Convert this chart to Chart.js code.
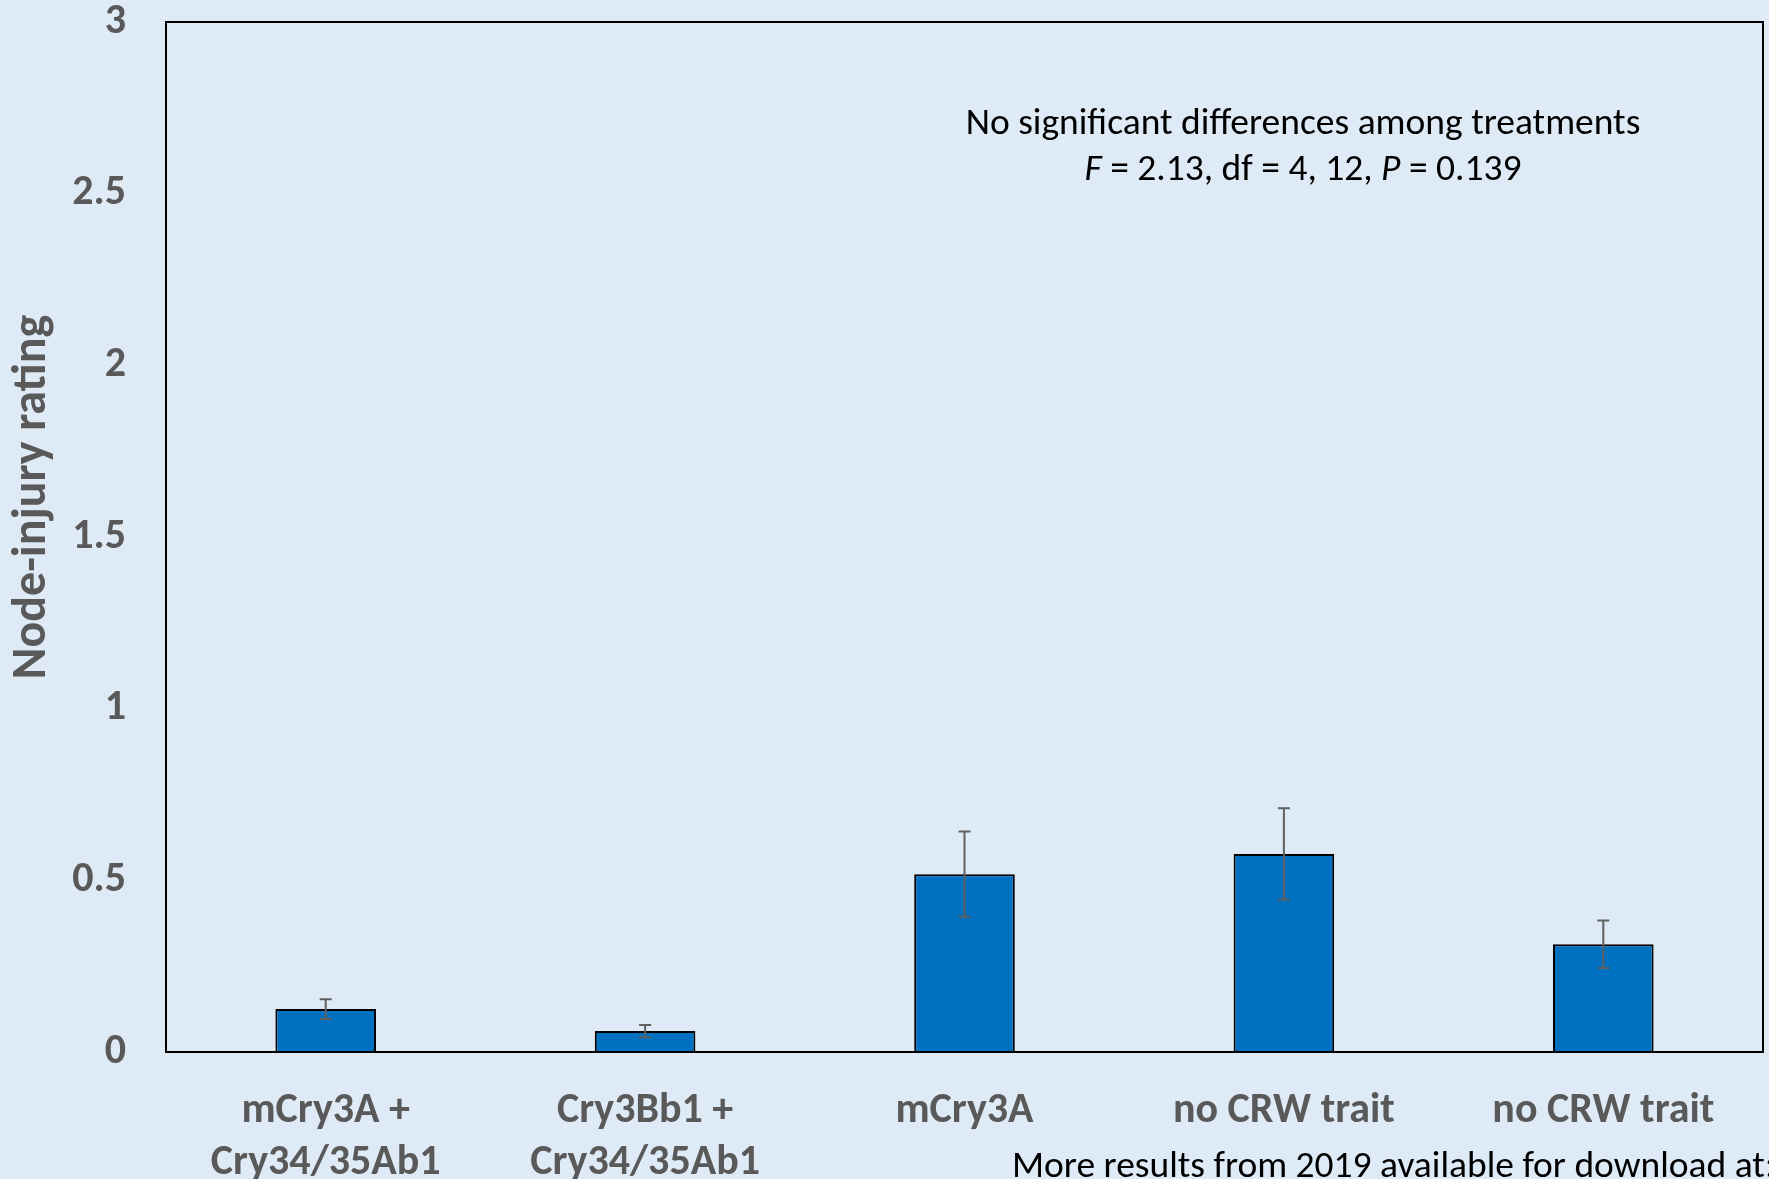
<!DOCTYPE html>
<html>
<head>
<meta charset="utf-8">
<title>Node-injury rating</title>
<script src="https://cdn.jsdelivr.net/npm/chart.js@4"></script>
<style>
  html, body { margin: 0; padding: 0; background: #DEEAF6; }
  #wrap { width: 1769px; height: 1179px; }
</style>
</head>
<body>
<div id="wrap"><canvas id="mainChart" width="1769" height="1179"></canvas></div>
<script>
// data
const categories = [
    ['mCry3A +', 'Cry34/35Ab1'],
    ['Cry3Bb1 +', 'Cry34/35Ab1'],
    'mCry3A',
    'no CRW trait',
    'no CRW trait'
];
const ratings = [0.125, 0.061, 0.518, 0.577, 0.314];
const stdErr = [0.029, 0.018, 0.124, 0.133, 0.069];
const yTicks = [0, 0.5, 1, 1.5, 2, 2.5, 3];

const fontFamily = "Carlito, 'Open Sans', 'Noto Sans', sans-serif";
const grey = '#595959';
const noteSize = 37.5;

// error bars
const errorBars = {
    id: 'errorBars',
    afterDatasetsDraw(chart) {
        const ctx = chart.ctx;
        const y = chart.scales.y;
        const meta = chart.getDatasetMeta(0);
        ctx.save();
        ctx.strokeStyle = '#606060';
        ctx.lineWidth = 2;
        meta.data.forEach((bar, i) => {
            const top = y.getPixelForValue(ratings[i] + stdErr[i]);
            const bot = y.getPixelForValue(ratings[i] - stdErr[i]);
            ctx.beginPath();
            ctx.moveTo(bar.x, top); ctx.lineTo(bar.x, bot);
            ctx.moveTo(bar.x - 6, top); ctx.lineTo(bar.x + 6, top);
            ctx.moveTo(bar.x - 6, bot); ctx.lineTo(bar.x + 6, bot);
            ctx.stroke();
        });
        ctx.restore();
    }
};

// plot box, axis title + notes
const extras = {
    id: 'extras',
    afterDraw(chart) {
        const ctx = chart.ctx;
        const a = chart.chartArea;
        ctx.save();
        ctx.strokeStyle = '#000';
        ctx.lineWidth = 2;
        ctx.strokeRect(a.left, a.top, a.right - a.left, a.bottom - a.top);

        // y axis title (sits a bit above the middle, as in the original)
        ctx.save();
        ctx.translate(33, 497);
        ctx.rotate(-Math.PI / 2);
        ctx.fillStyle = grey;
        ctx.font = "bold 48px " + fontFamily;
        ctx.textAlign = 'center';
        ctx.textBaseline = 'middle';
        ctx.fillText('Node-injury rating', 0, 0);
        ctx.restore();

        ctx.fillStyle = '#000';
        ctx.textBaseline = 'middle';
        ctx.textAlign = 'center';
        ctx.font = noteSize + "px " + fontFamily;
        ctx.fillText('No significant differences among treatments', 1303, 125);

        // second line with italic F and P
        const parts = [['F', true], [' = 2.13, df = 4, 12, ', false], ['P', true], [' = 0.139', false]];
        let total = 0;
        parts.forEach(p => {
            ctx.font = (p[1] ? 'italic ' : '') + noteSize + "px " + fontFamily;
            total += ctx.measureText(p[0]).width;
        });
        let x = 1303 - total / 2;
        ctx.textAlign = 'left';
        parts.forEach(p => {
            ctx.font = (p[1] ? 'italic ' : '') + noteSize + "px " + fontFamily;
            ctx.fillText(p[0], x, 171);
            x += ctx.measureText(p[0]).width;
        });

        ctx.font = noteSize + "px " + fontFamily;
        ctx.fillText('More results from 2019 available for download at:', 1012, 1168);
        ctx.restore();
    }
};

new Chart(document.getElementById('mainChart'), {
    type: 'bar',
    data: {
        labels: categories,
        datasets: [{
            label: 'Node-injury rating',
            data: ratings,
            backgroundColor: '#0070C0',
            borderColor: '#000000',
            borderWidth: 2,
            barPercentage: 0.63,
            categoryPercentage: 0.5
        }]
    },
    options: {
        responsive: false,
        animation: false,
        layout: { padding: { top: 22, right: 6, left: 0, bottom: 0 } },
        plugins: {
            legend: { display: false },
            tooltip: { enabled: false }
        },
        scales: {
            x: {
                grid: { display: false, drawTicks: false },
                border: { display: false },
                ticks: {
                    color: grey,
                    padding: 33,
                    maxRotation: 0,
                    autoSkip: false,
                    font: { family: fontFamily, size: 42, weight: 'bold', lineHeight: 1.24 }
                },
                afterFit(scale) {
                    scale.height = 127;
                    scale.paddingLeft = 0;
                    scale.paddingRight = 0;
                }
            },
            y: {
                min: 0,
                max: 3,
                afterBuildTicks(scale) { scale.ticks = yTicks.map(v => ({ value: v })); },
                grid: { display: false, drawTicks: false },
                border: { display: false },
                ticks: {
                    color: grey,
                    padding: 40,
                    callback: v => String(v),
                    font: { family: fontFamily, size: 42, weight: 'bold' }
                },
                title: { display: false },
                afterFit(scale) {
                    scale.width = 166;
                    scale.paddingTop = 0;
                    scale.paddingBottom = 0;
                }
            }
        }
    },
    plugins: [errorBars, extras]
});
</script>
</body>
</html>
